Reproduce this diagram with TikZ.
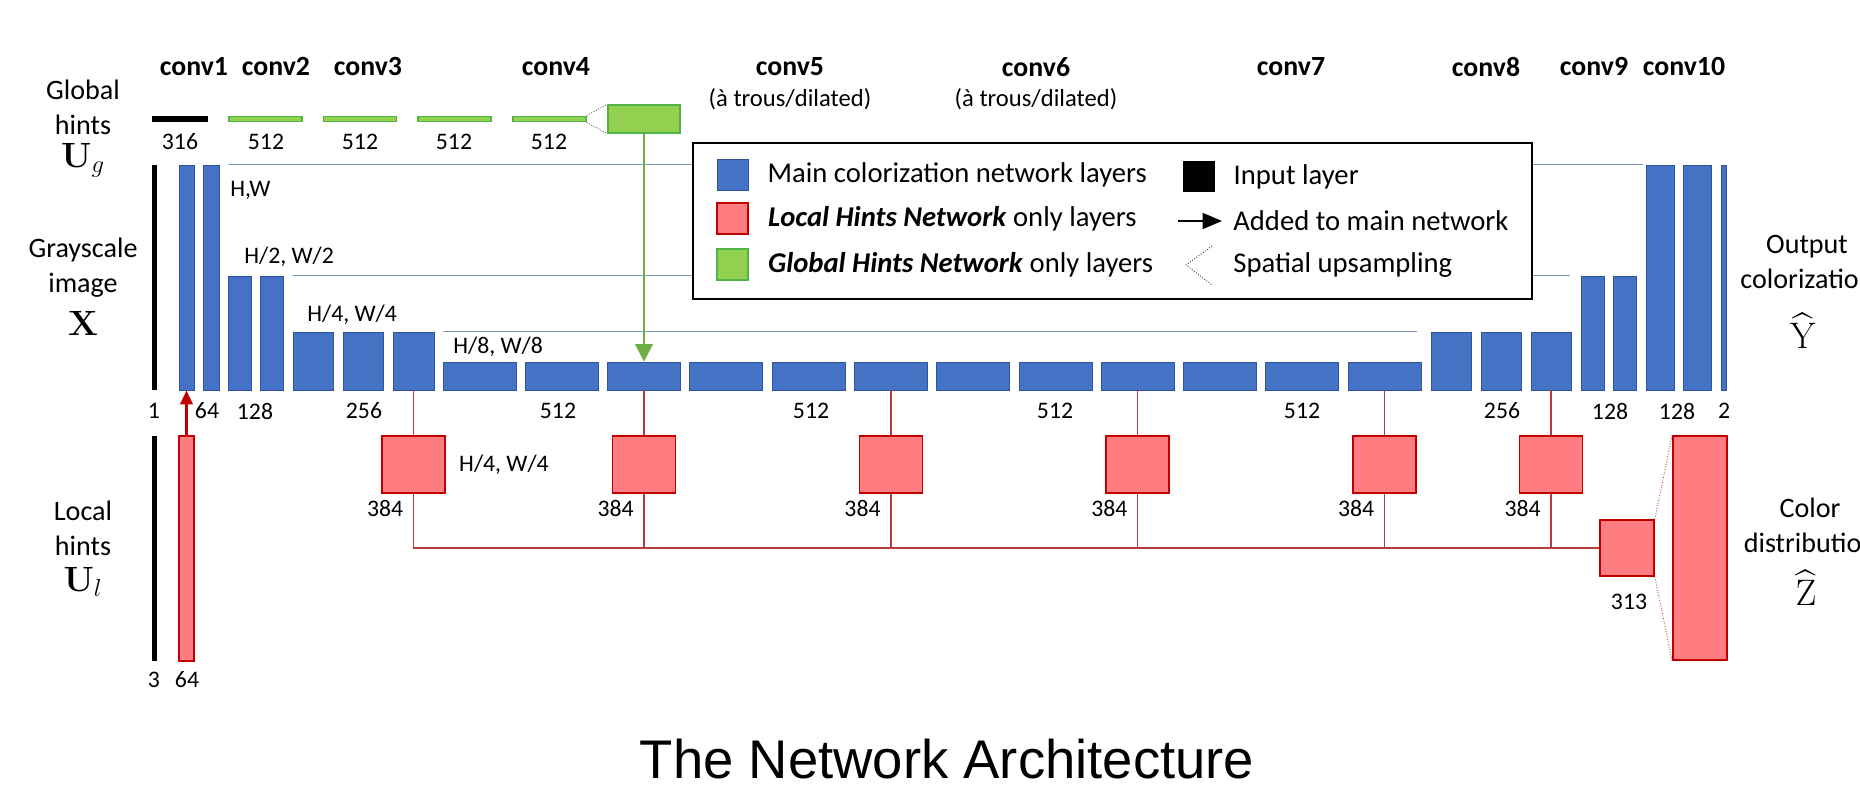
\RequirePackage{fix-cm}
\documentclass[tikz,border=0pt]{standalone}
\usepackage{amsmath}
\usepackage[no-math]{fontspec}
\setmainfont{Carlito}
\newfontfamily\titlefont{Liberation Sans}
\usetikzlibrary{arrows.meta}
\usetikzlibrary{calc}

\definecolor{mainfill}{RGB}{68,114,196}
\definecolor{mainedge}{RGB}{47,85,151}
\definecolor{hintfill}{RGB}{255,124,128}
\definecolor{hintedge}{RGB}{192,0,0}
\definecolor{globfill}{RGB}{146,208,80}
\definecolor{globedge}{RGB}{80,180,70}
\definecolor{globarrow}{RGB}{112,173,71}
\definecolor{skipcol}{RGB}{125,152,200}
\definecolor{hintwire}{RGB}{180,60,60}

\begin{document}
\begin{tikzpicture}[x=0.02cm,y=-0.02cm,
  mainlayer/.style={rectangle,draw=mainedge,fill=mainfill,line width=0.4pt,inner sep=0pt},
  hintlayer/.style={rectangle,draw=hintedge,fill=hintfill,line width=1pt,inner sep=0pt},
  globlayer/.style={rectangle,draw=globedge,fill=globfill,line width=0.8pt,inner sep=0pt},
  inlayer/.style={rectangle,fill=black,inner sep=0pt},
  convlabel/.style={font=\fontsize{15.8}{19}\selectfont\bfseries,inner sep=0pt},
  num/.style={font=\fontsize{13.5}{16}\selectfont,inner sep=0pt},
  side/.style={font=\fontsize{16}{20}\selectfont,align=center,inner sep=0pt},
  sym/.style={font=\fontsize{20}{24}\selectfont,inner sep=0pt},
  legtext/.style={font=\fontsize{16.3}{19}\selectfont,anchor=west,inner sep=0pt},
  skipline/.style={draw=skipcol,line width=0.6pt},
  hintline/.style={draw=hintwire,line width=0.8pt},
  upline/.style={draw=black!65,line width=0.5pt,densely dotted}]
\useasboundingbox (0,0) rectangle (1860,800);
\clip (0,0) rectangle (1860,800);

\draw (194,67) node (c1) [convlabel] {conv1};
\draw (276,67) node (c2) [convlabel] {conv2};
\draw (368,67) node (c3) [convlabel] {conv3};
\draw (556,67) node (c4) [convlabel] {conv4};
\draw (790,67) node (c5) [convlabel] {conv5};
\draw (1036,67) node (c6) [convlabel] {conv6};
\draw (1291,67) node (c7) [convlabel] {conv7};
\draw (1486,67) node (c8) [convlabel] {conv8};
\draw (1594,67) node (c9) [convlabel] {conv9};
\draw (1684,67) node (c10) [convlabel] {conv10};
\draw (790,99) node (d5) [num,font=\fontsize{14}{16}\selectfont] {(à trous/dilated)};
\draw (1036,99) node (d6) [num,font=\fontsize{14}{16}\selectfont] {(à trous/dilated)};

\draw (83,107) node (gtext) [side] {Global\\hints};
\draw (83,160) node (ug) [sym] {$\mathbf{U}_{g}$};
\draw (83,268) node (xtext) [side] {Grayscale\\image};
\draw (83,323) node (xx) [sym] {$\mathbf{X}$};
\draw (83,528) node (ltext) [side] {Local\\hints};
\draw (83,582) node (ul) [sym] {$\mathbf{U}_{l}$};
\draw (1807,262) node (ytext) [side] {Output\\colorization};
\draw (1803,331) node (yy) [sym,font=\fontsize{21}{25}\selectfont] {$\widehat{\mathrm{Y}}$};
\draw (1810,525) node (ztext) [side] {Color\\distribution};
\draw (1806,588) node (zz) [sym,font=\fontsize{21}{25}\selectfont] {$\widehat{\mathrm{Z}}$};

\draw (154.5,277.5) node (gray) [inlayer,minimum width=0.1cm,minimum height=4.5cm] {};
\draw (154.5,548.5) node (lin) [inlayer,minimum width=0.1cm,minimum height=4.5cm] {};
\draw (180,119) node (gin) [inlayer,minimum width=1.12cm,minimum height=0.12cm] {};

\draw (186.5,277.5) node (b1a) [mainlayer,minimum width=0.30cm,minimum height=4.5cm] {};
\draw (211,277.5) node (b1b) [mainlayer,minimum width=0.32cm,minimum height=4.5cm] {};
\draw (239.5,333) node (b2a) [mainlayer,minimum width=0.46cm,minimum height=2.28cm] {};
\draw (271.5,333) node (b2b) [mainlayer,minimum width=0.46cm,minimum height=2.28cm] {};
\draw (313,361) node (b3a) [mainlayer,minimum width=0.8cm,minimum height=1.16cm] {};
\draw (363,361) node (b3b) [mainlayer,minimum width=0.8cm,minimum height=1.16cm] {};
\draw (413.5,361) node (b3c) [mainlayer,minimum width=0.82cm,minimum height=1.16cm] {};
\draw (479.5,376) node (b4a) [mainlayer,minimum width=1.46cm,minimum height=0.56cm] {};
\draw (561.8,376) node (b4b) [mainlayer,minimum width=1.46cm,minimum height=0.56cm] {};
\draw (644,376) node (b4c) [mainlayer,minimum width=1.46cm,minimum height=0.56cm] {};
\draw (726.3,376) node (b5a) [mainlayer,minimum width=1.46cm,minimum height=0.56cm] {};
\draw (808.6,376) node (b5b) [mainlayer,minimum width=1.46cm,minimum height=0.56cm] {};
\draw (890.9,376) node (b5c) [mainlayer,minimum width=1.46cm,minimum height=0.56cm] {};
\draw (973.1,376) node (b6a) [mainlayer,minimum width=1.46cm,minimum height=0.56cm] {};
\draw (1055.4,376) node (b6b) [mainlayer,minimum width=1.46cm,minimum height=0.56cm] {};
\draw (1137.7,376) node (b6c) [mainlayer,minimum width=1.46cm,minimum height=0.56cm] {};
\draw (1219.9,376) node (b7a) [mainlayer,minimum width=1.46cm,minimum height=0.56cm] {};
\draw (1302.2,376) node (b7b) [mainlayer,minimum width=1.46cm,minimum height=0.56cm] {};
\draw (1384.5,376) node (b7c) [mainlayer,minimum width=1.46cm,minimum height=0.56cm] {};
\draw (1451,361) node (b8a) [mainlayer,minimum width=0.8cm,minimum height=1.16cm] {};
\draw (1501,361) node (b8b) [mainlayer,minimum width=0.8cm,minimum height=1.16cm] {};
\draw (1551,361) node (b8c) [mainlayer,minimum width=0.8cm,minimum height=1.16cm] {};
\draw (1593,333) node (b9a) [mainlayer,minimum width=0.46cm,minimum height=2.28cm] {};
\draw (1625,333) node (b9b) [mainlayer,minimum width=0.46cm,minimum height=2.28cm] {};
\draw (1660,277.5) node (b10a) [mainlayer,minimum width=0.56cm,minimum height=4.5cm] {};
\draw (1697.5,277.5) node (b10b) [mainlayer,minimum width=0.56cm,minimum height=4.5cm] {};
\draw (1723.5,277.5) node (b10c) [mainlayer,minimum width=0.1cm,minimum height=4.5cm] {};

\draw[skipline] ([xshift=0.2cm]b1b.north east) -- ([xshift=-0.06cm]b10a.north west);
\draw[skipline] ([xshift=0.2cm]b2b.north east) -- ([xshift=-0.22cm]b9a.north west);
\draw[skipline] ([xshift=0.18cm]b3c.north east) -- ([xshift=-0.28cm]b8a.north west);

\draw (265.5,119) node (g1) [globlayer,minimum width=1.46cm,minimum height=0.11cm] {};
\draw (360,119) node (g2) [globlayer,minimum width=1.46cm,minimum height=0.11cm] {};
\draw (454.5,119) node (g3) [globlayer,minimum width=1.46cm,minimum height=0.11cm] {};
\draw (549.5,119) node (g4) [globlayer,minimum width=1.46cm,minimum height=0.11cm] {};
\draw (644,119) node (g5) [globlayer,minimum width=1.44cm,minimum height=0.56cm] {};
\draw[upline] (g4.north east) -- (g5.north west);
\draw[upline] (g4.south east) -- (g5.south west);
\draw[globarrow,line width=1.4pt,-{Triangle[length=10pt,width=10pt]}] (g5.south) -- (b4c.north);

\draw (180,142) node (n316) [num] {316};
\draw (266,142) node (n512a) [num] {512};
\draw (360,142) node (n512b) [num] {512};
\draw (454,142) node (n512c) [num] {512};
\draw (549,142) node (n512d) [num] {512};

\draw (230,190) node (s1) [num,anchor=west] {H,W};
\draw (244,257) node (s2) [num,anchor=west] {H/2, W/2};
\draw (307,315) node (s4) [num,anchor=west] {H/4, W/4};
\draw (453,347) node (s8) [num,anchor=west] {H/8, W/8};

\draw (154,411) node (m1) [num] {1};
\draw (207,411) node (m64) [num] {64};
\draw (255,411) node (m128) [num] {128};
\draw (364,411) node (m256) [num] {256};
\draw (558,411) node (m512a) [num] {512};
\draw (811,411) node (m512b) [num] {512};
\draw (1055,411) node (m512c) [num] {512};
\draw (1302,411) node (m512d) [num] {512};
\draw (1502,411) node (m256b) [num] {256};
\draw (1610,411) node (m128b) [num] {128};
\draw (1677,411) node (m128c) [num] {128};
\draw (1724,411) node (m2) [num] {2};

\draw (186.5,548.5) node (l1) [hintlayer,minimum width=0.30cm,minimum height=4.5cm] {};
\draw[hintedge,line width=1.7pt,-{Triangle[length=8pt,width=7pt]}] (l1.north) -- (b1a.south);
\draw (154,680) node (k3) [num] {3};
\draw (187,680) node (k64) [num] {64};

\draw (1627,548) node (hout) [hintlayer,minimum width=1.08cm,minimum height=1.12cm] {};
\draw (1700,548) node (zout) [hintlayer,minimum width=1.08cm,minimum height=4.48cm] {};
\draw[upline,draw=hintwire] (hout.north east) -- (zout.north west);
\draw[upline,draw=hintwire] (hout.south east) -- (zout.south west);
\draw (1629,602) node (n313) [num] {313};

\draw (b3c.south) ++(0,74.5) node (h3) [hintlayer,minimum width=1.26cm,minimum height=1.14cm] {};
\draw (b4c.south) ++(0,74.5) node (h4) [hintlayer,minimum width=1.26cm,minimum height=1.14cm] {};
\draw (b5c.south) ++(0,74.5) node (h5) [hintlayer,minimum width=1.26cm,minimum height=1.14cm] {};
\draw (b6c.south) ++(0,74.5) node (h6) [hintlayer,minimum width=1.26cm,minimum height=1.14cm] {};
\draw (b7c.south) ++(0,74.5) node (h7) [hintlayer,minimum width=1.26cm,minimum height=1.14cm] {};
\draw (b8c.south) ++(0,74.5) node (h8) [hintlayer,minimum width=1.26cm,minimum height=1.14cm] {};
\draw[hintline] (b3c.south) -- (h3.north);
\draw[hintline] (b4c.south) -- (h4.north);
\draw[hintline] (b5c.south) -- (h5.north);
\draw[hintline] (b6c.south) -- (h6.north);
\draw[hintline] (b7c.south) -- (h7.north);
\draw[hintline] (b8c.south) -- (h8.north);
\draw[hintline] (h3.south) |- (hout.west);
\draw[hintline] (h4.south) -- (h4.south |- hout.west);
\draw[hintline] (h5.south) -- (h5.south |- hout.west);
\draw[hintline] (h6.south) -- (h6.south |- hout.west);
\draw[hintline] (h7.south) -- (h7.south |- hout.west);
\draw[hintline] (h8.south) -- (h8.south |- hout.west);
\draw (h3.east) ++(13,0) node (s4b) [num,anchor=west] {H/4, W/4};
\draw (h3.south) ++(-10,14) node (q3) [num,anchor=east] {384};
\draw (h4.south) ++(-10,14) node (q4) [num,anchor=east] {384};
\draw (h5.south) ++(-10,14) node (q5) [num,anchor=east] {384};
\draw (h6.south) ++(-10,14) node (q6) [num,anchor=east] {384};
\draw (h7.south) ++(-10,14) node (q7) [num,anchor=east] {384};
\draw (h8.south) ++(-10,14) node (q8) [num,anchor=east] {384};

\draw (1112.5,221) node (legend) [rectangle,draw=black,fill=white,line width=1.6pt,minimum width=16.78cm,minimum height=3.12cm] {};
\draw (732.5,174.5) node (kmain) [mainlayer,minimum width=0.62cm,minimum height=0.62cm] {};
\draw (kmain.east) ++(19,0) node (tmain) [legtext] {Main colorization network layers};
\draw (732.5,218.5) node (khint) [hintlayer,minimum width=0.62cm,minimum height=0.62cm] {};
\draw (khint.east) ++(19,0) node (thint) [legtext] {\textbf{\textit{Local Hints Network}} only layers};
\draw (732.5,264.5) node (kglob) [globlayer,minimum width=0.62cm,minimum height=0.62cm] {};
\draw (kglob.east) ++(19,0) node (tglob) [legtext] {\textbf{\textit{Global Hints Network}} only layers};
\draw (1199,176.5) node (kin) [inlayer,minimum width=0.64cm,minimum height=0.62cm] {};
\draw (kin.east) ++(18,0) node (tin) [legtext] {Input layer};
\draw (1178,221) coordinate (ka) ++(44,0) coordinate (kb);
\draw[line width=1.2pt,-{Triangle[length=11pt,width=9pt]}] (ka) -- (kb);
\draw (1233,221) node (tadd) [legtext] {Added to main network};
\draw[upline,draw=black!80] (1212,246) -- (1186,265) -- (1212,285);
\draw (1233,265) node (tup) [legtext] {Spatial upsampling};

\draw (947,759) node (title) [font=\titlefont\fontsize{31}{36}\selectfont] {The Network Architecture};
\end{tikzpicture}
\end{document}
